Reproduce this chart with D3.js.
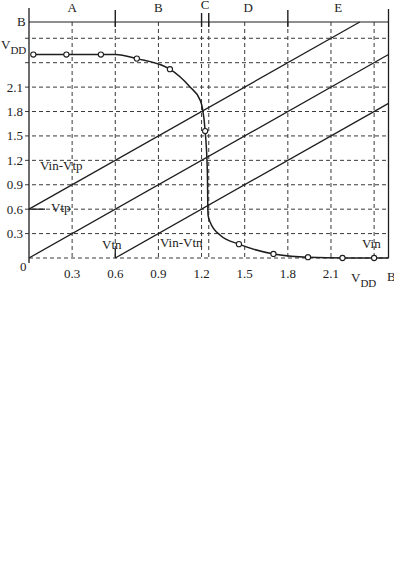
<!DOCTYPE html>
<html>
<head>
<meta charset="utf-8">
<script src="https://cdn.jsdelivr.net/npm/d3@7"></script>
<style>
  body { margin: 0; background: #fff; }
  text { font-family: "Liberation Serif", "Times New Roman", serif; font-size: 13px; fill: #222; }
</style>
</head>
<body>
<script>
const width = 394;
const height = 585;

// values
const vdd = 2.5;
const vtn = 0.6;
const vtp = 0.6;
const topV = 2.9;

const gridX = [0.3, 0.6, 0.9, 1.2, 1.25, 1.5, 1.8, 2.1, 2.4];
const gridY = [0, 0.3, 0.6, 0.9, 1.2, 1.5, 1.8, 2.1, 2.4, 2.7];
const xTickLabels = [0.3, 0.6, 0.9, 1.2, 1.5, 1.8, 2.1];
const yTickLabels = [0.3, 0.6, 0.9, 1.2, 1.5, 1.8, 2.1];

const regionNames = ["A", "B", "C", "D", "E"];
const regionBounds = [0, 0.6, 1.2, 1.25, 1.8, 2.5];

// transfer curve (Vin, Vout)
const curveVin  = [0.03, 0.6, 0.75, 0.98, 1.12, 1.19, 1.205, 1.225, 1.24, 1.245, 1.26, 1.33, 1.46, 1.7, 1.94, 2.2, 2.5];
const curveVout = [2.5, 2.5, 2.45, 2.32, 2.1, 1.94, 1.85, 1.56, 1.08, 0.53, 0.44, 0.28, 0.17, 0.05, 0.01, 0.0, 0.0];

// circled points on the curve
const markVin  = [0.03, 0.26, 0.5, 0.75, 0.98, 1.225, 1.46, 1.7, 1.94, 2.18, 2.4];
const markVout = [2.5, 2.5, 2.5, 2.45, 2.32, 1.56, 0.17, 0.05, 0.01, 0.0, 0.0];

const x = d3.scaleLinear().domain([0, vdd]).range([29, 388.5]);
const y = d3.scaleLinear().domain([0, topV]).range([258, 22]);

const svg = d3.select("body")
  .append("svg")
  .attr("width", width)
  .attr("height", height);

const ink = "#1e1e1e";
const dash = "#3a3a3a";

// dashed grid
svg.append("g")
  .selectAll("line")
  .data(gridX)
  .join("line")
  .attr("x1", d => x(d)).attr("x2", d => x(d))
  .attr("y1", y(topV)).attr("y2", y(0))
  .attr("stroke", dash).attr("stroke-width", 1)
  .attr("stroke-dasharray", "4,3");

svg.append("g")
  .selectAll("line")
  .data(gridY)
  .join("line")
  .attr("x1", d => d === 0 ? x(0) : x(0) - 4).attr("x2", x(vdd))
  .attr("y1", d => y(d)).attr("y2", d => y(d))
  .attr("stroke", dash).attr("stroke-width", 1)
  .attr("stroke-dasharray", "4,3");

// frame: left axis, top axis, right side
svg.append("line")
  .attr("x1", x(0)).attr("x2", x(0))
  .attr("y1", 8).attr("y2", y(0) + 5)
  .attr("stroke", ink).attr("stroke-width", 1.3);
svg.append("line")
  .attr("x1", x(0)).attr("x2", x(vdd))
  .attr("y1", y(topV)).attr("y2", y(topV))
  .attr("stroke", ink).attr("stroke-width", 1.2);
svg.append("line")
  .attr("x1", x(vdd)).attr("x2", x(vdd))
  .attr("y1", 9).attr("y2", y(0))
  .attr("stroke", ink).attr("stroke-width", 1.3);

// region boundary ticks on the top axis
svg.append("g")
  .selectAll("line")
  .data(regionBounds.slice(1, -1))
  .join("line")
  .attr("x1", d => x(d)).attr("x2", d => x(d))
  .attr("y1", (d, i) => (i === 1 || i === 2) ? 13 : 10)
  .attr("y2", y(topV) + 5)
  .attr("stroke", ink).attr("stroke-width", 1.4);

svg.append("g")
  .selectAll("text")
  .data(regionNames)
  .join("text")
  .attr("x", (d, i) => x((regionBounds[i] + regionBounds[i + 1]) / 2))
  .attr("y", (d, i) => i === 2 ? 9 : 12)
  .attr("text-anchor", "middle")
  .text(d => d);

svg.append("text").attr("x", 17).attr("y", 26).text("B");

// reference lines
const line = d3.line().x(d => x(d[0])).y(d => y(d[1]));
const refLines = [
  [[0, vtp], [topV - vtp, topV]],
  [[0, 0], [vdd, vdd]],
  [[vtn, 0], [vdd, vdd - vtn]]
];
svg.append("g")
  .selectAll("path")
  .data(refLines)
  .join("path")
  .attr("d", line)
  .attr("fill", "none")
  .attr("stroke", ink).attr("stroke-width", 1.3);

// Vtp marker and Vtn marker
svg.append("line")
  .attr("x1", x(0)).attr("x2", x(0) + 16)
  .attr("y1", y(vtp)).attr("y2", y(vtp))
  .attr("stroke", ink).attr("stroke-width", 1.3);
svg.append("line")
  .attr("x1", x(vtn)).attr("x2", x(vtn))
  .attr("y1", y(0)).attr("y2", y(0) - 9)
  .attr("stroke", ink).attr("stroke-width", 1.3);

// transfer curve
const curvePts = curveVin.map((v, i) => [v, curveVout[i]]);
svg.append("path")
  .datum(curvePts)
  .attr("d", d3.line().x(d => x(d[0])).y(d => y(d[1])).curve(d3.curveMonotoneX))
  .attr("fill", "none")
  .attr("stroke", ink).attr("stroke-width", 1.5);

svg.append("g")
  .selectAll("circle")
  .data(markVin.map((v, i) => [v, markVout[i]]))
  .join("circle")
  .attr("cx", d => x(d[0]))
  .attr("cy", d => y(d[1]))
  .attr("r", 2.6)
  .attr("fill", "#fff")
  .attr("stroke", ink).attr("stroke-width", 1.1);

// axis labels
svg.append("g")
  .selectAll("text")
  .data(yTickLabels)
  .join("text")
  .attr("x", 23)
  .attr("y", d => y(d) + 4.5)
  .attr("text-anchor", "end")
  .text(d => d.toFixed(1));
svg.append("text").attr("x", 20).attr("y", 271).text("0");

svg.append("g")
  .selectAll("text")
  .data(xTickLabels)
  .join("text")
  .attr("x", d => x(d))
  .attr("y", 278)
  .attr("text-anchor", "middle")
  .text(d => d.toFixed(1));
svg.append("text").attr("x", 387).attr("y", 281).text("B");

// V_DD labels
const vddLeft = svg.append("text").attr("x", 1).attr("y", 49);
vddLeft.append("tspan").text("V");
vddLeft.append("tspan").attr("dy", 5).style("font-size", "11px").text("DD");

const vddBottom = svg.append("text").attr("x", 351).attr("y", 282);
vddBottom.append("tspan").text("V");
vddBottom.append("tspan").attr("dy", 5).style("font-size", "11px").text("DD");

// line annotations
svg.append("text").attr("x", 40).attr("y", 170).text("Vin-Vtp");
svg.append("text").attr("x", 51).attr("y", 212).text("Vtp");
svg.append("text").attr("x", 102).attr("y", 249).text("Vtn");
svg.append("text").attr("x", 160).attr("y", 247).text("Vin-Vtn");
svg.append("text").attr("x", 362).attr("y", 248).text("Vin");
</script>
</body>
</html>
